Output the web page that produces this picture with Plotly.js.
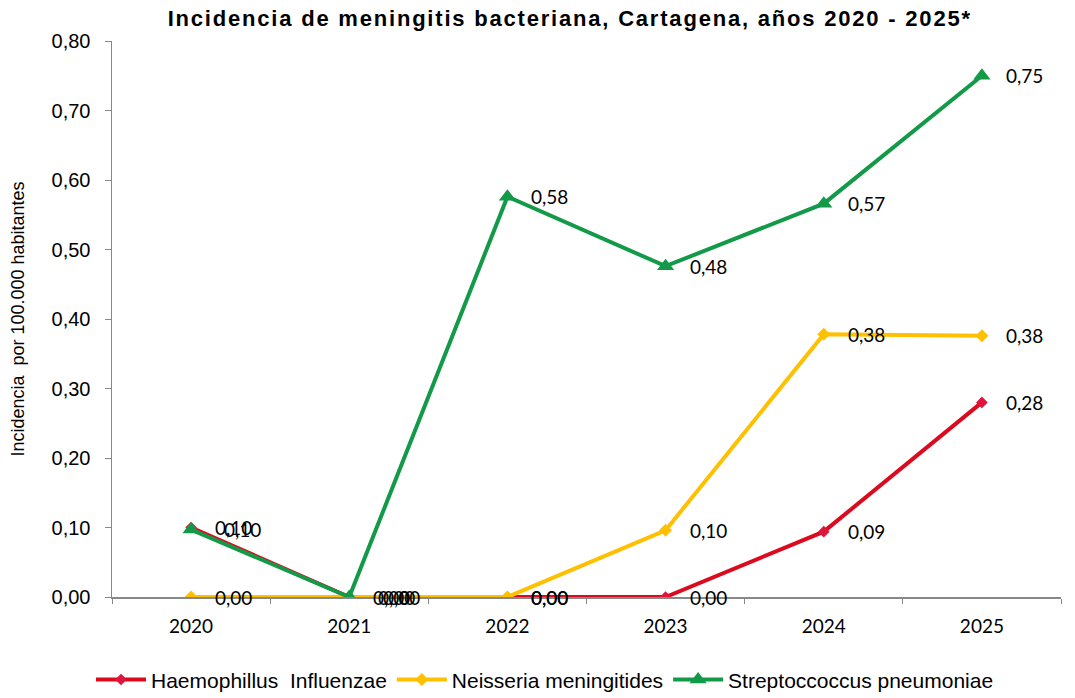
<!DOCTYPE html>
<html>
<head>
<meta charset="utf-8">
<script src="https://cdn.plot.ly/plotly-3.0.1.min.js"></script>
<style>
html,body{margin:0;padding:0;background:#fff;}
#chart{width:1075px;height:698px;}
#chart .gtitle{letter-spacing:1.8px;}
</style>
</head>
<body>
<div id="chart"></div>
<script>
const years = ["2020", "2021", "2022", "2023", "2024", "2025"];
const haemophilus = [0.10, 0.00, 0.00, 0.00, 0.094, 0.28];
const neisseria = [0.00, 0.00, 0.00, 0.096, 0.378, 0.376];
const streptococcus = [0.097, 0.00, 0.576, 0.476, 0.566, 0.75];
const seriesNames = ["Haemophillus  Influenzae", "Neisseria meningitides", "Streptoccoccus pneumoniae"];
const yTicks = [0, 0.1, 0.2, 0.3, 0.4, 0.5, 0.6, 0.7, 0.8];

const colors = ["#dc0a1e", "#ffc000", "#139a48"];
const markerColors = ["#e0143c", "#ffc000", "#139a48"];
const symbols = ["diamond", "diamond", "triangle-up"];
const msizes = [9, 10, 15];
const allSeries = [haemophilus, neisseria, streptococcus];

const fmt = v => v.toFixed(2).replace(".", ",");

const traces = allSeries.map((s, i) => ({
  type: "scatter",
  mode: "lines+markers",
  name: seriesNames[i],
  x: years,
  y: s,
  line: {color: colors[i], width: 4},
  marker: {symbol: symbols[i], size: msizes[i], color: markerColors[i]},
  hoverinfo: "x+y"
}));

// Labels that share a point are nudged the way the original's overlapping labels are,
// except where the original prints them exactly on top of each other (third category).
const annotations = [];
allSeries.forEach((s, i) => {
  s.forEach((v, j) => {
    let dup = 0;
    for (let k = 0; k < i; k++) { if (fmt(allSeries[k][j]) === fmt(v)) dup++; }
    const nudge = j < 2 ? dup * (j === 0 ? 9 : 5) : 0;
    annotations.push({
      x: j, y: v, xref: "x", yref: "y",
      text: fmt(v), showarrow: false,
      xanchor: "left", yanchor: "middle",
      xshift: 22 + nudge,
      font: {family: "Lato, 'Open Sans', sans-serif", size: 19, color: "#000"}
    });
  });
});

const layout = {
  width: 1075, height: 698,
  paper_bgcolor: "#fff", plot_bgcolor: "#fff",
  margin: {l: 112, r: 14, t: 41, b: 101},
  title: {
    text: "<b>Incidencia de meningitis bacteriana, Cartagena, años 2020 - 2025*</b>",
    font: {family: "'Liberation Sans', Arial, sans-serif", size: 22, color: "#000"},
    x: 0.53, xanchor: "center", xref: "container",
    y: 0.974, yanchor: "middle", yref: "container"
  },
  xaxis: {
    type: "category",
    range: [-0.5, 5.5],
    tickson: "boundaries",
    ticks: "outside", ticklen: 5, tickcolor: "#888",
    ticklabelstandoff: 12,
    showline: true, linecolor: "#888", linewidth: 1.5,
    showgrid: false, zeroline: false,
    tickfont: {family: "Lato, 'Open Sans', sans-serif", size: 19, color: "#000"}
  },
  yaxis: {
    range: [0, 0.8],
    tickvals: yTicks,
    ticktext: yTicks.map(fmt),
    ticks: "outside", ticklen: 6, tickcolor: "#888",
    ticklabelstandoff: 10,
    showline: true, linecolor: "#888", linewidth: 1.5,
    showgrid: false, zeroline: false,
    tickfont: {family: "'Liberation Sans', Arial, sans-serif", size: 20, color: "#000"},
    title: {
      text: "Incidencia  por 100.000 habitantes",
      font: {family: "'Liberation Sans', Arial, sans-serif", size: 18, color: "#000"},
      standoff: 22
    }
  },
  showlegend: true,
  legend: {
    orientation: "h",
    xref: "container", yref: "container",
    x: 0.507, xanchor: "center",
    y: 0.026, yanchor: "middle",
    font: {family: "'Liberation Sans', Arial, sans-serif", size: 21, color: "#000"},
    itemwidth: 50,
    traceorder: "normal"
  },
  annotations: annotations
};

Plotly.newPlot("chart", traces, layout, {displayModeBar: false, staticPlot: true});
</script>
</body>
</html>
